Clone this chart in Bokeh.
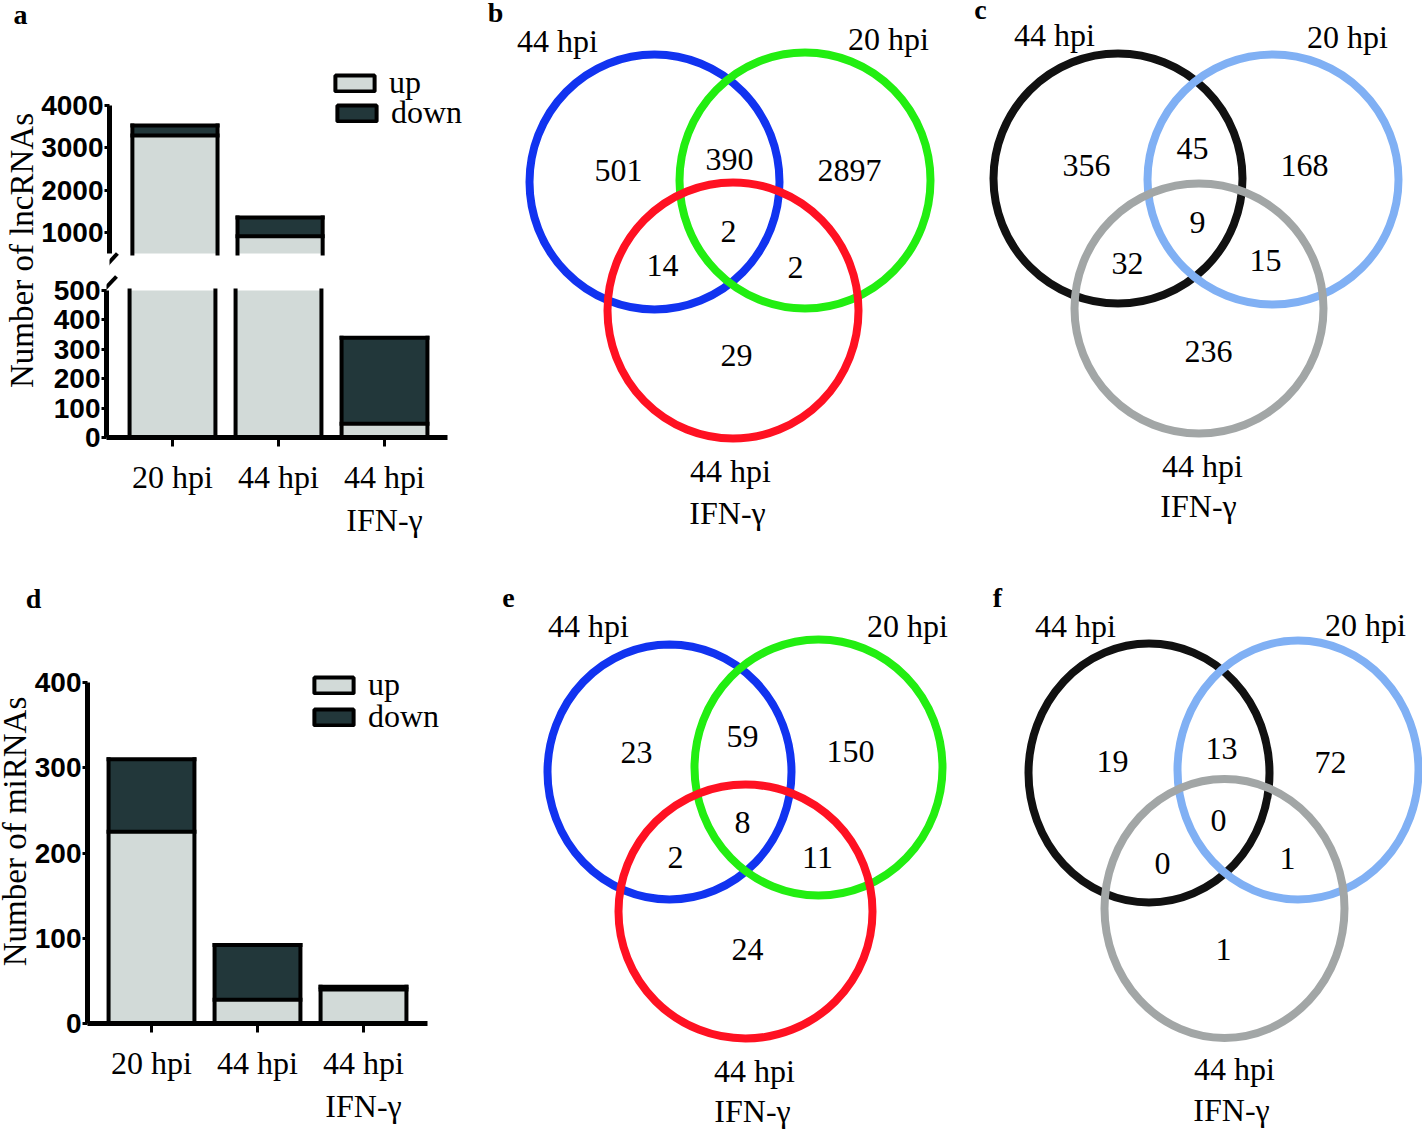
import numpy as np
from bokeh.plotting import figure
from bokeh.models import (Range1d, FixedTicker, Legend, LegendItem)
from bokeh.layouts import row, column
from bokeh.embed import file_html
from bokeh.resources import INLINE
from bokeh.core.properties import value

# ---------------- data ----------------
categories = ["20 hpi", "44 hpi", "44 hpi\nIFN-γ"]
lnc_up = [3291, 907, 47]
lnc_down = [237, 442, 292]
mir_up = [225, 28, 40]
mir_down = [85, 64, 3]
lnc_top_ticks = [1000, 2000, 3000, 4000]
lnc_bottom_ticks = [0, 100, 200, 300, 400, 500]
mir_ticks = [0, 100, 200, 300, 400]
legend_labels = ["up", "down"]

venn_sets = ["44 hpi", "20 hpi", "44 hpi\nIFN-γ"]
# regions: only 44hpi, 44∩20, only 20, 44∩IFN, all three, 20∩IFN, only IFN
venn_b = [501, 390, 2897, 14, 2, 2, 29]
venn_c = [356, 45, 168, 32, 9, 15, 236]
venn_e = [23, 59, 150, 2, 8, 11, 24]
venn_f = [19, 13, 72, 0, 0, 1, 1]

# ---------------- styles ----------------
SERIF = "Liberation Serif"
TICKFONT = "Liberation Sans"
UP_FILL = "#d2dad8"
DOWN_FILL = "#22373a"
BLUE, GREEN, RED = "#1133f0", "#22ee11", "#ff1122"
BLACK, LBLUE, GRAY = "#111111", "#80b0f4", "#a2a6a6"
BAR_W = 0.81
BAR_LW = 4
NAN = float("nan")


def base_fig(**kw):
    p = figure(output_backend="svg", toolbar_location=None, title=None, **kw)
    p.outline_line_color = None
    p.grid.visible = False
    p.background_fill_color = "white"
    p.border_fill_color = "white"
    try:
        p.frame_align = False
    except Exception:
        pass
    return p


def pix_fig(x0, y0, w, h):
    """figure whose data units are page pixels (text / decoration panels)"""
    return base_fig(width=w, height=h, x_range=Range1d(x0, x0 + w), y_range=Range1d(y0 + h, y0),
                    min_border=0, x_axis_location=None, y_axis_location=None)


def style_y(ax, ticks, bounds):
    ax.ticker = FixedTicker(ticks=ticks)
    ax.bounds = bounds
    ax.axis_line_width = 5
    ax.axis_line_color = "black"
    ax.major_tick_line_width = 3
    ax.major_tick_out = 5
    ax.major_tick_in = 0
    ax.minor_tick_out = 0
    ax.minor_tick_in = 0
    ax.major_label_text_font = TICKFONT
    ax.major_label_text_font_style = "bold"
    ax.major_label_text_font_size = "28px"
    ax.major_label_text_color = "black"
    ax.major_label_standoff = 1


def style_x(ax, bounds):
    ax.ticker = FixedTicker(ticks=list(range(len(categories))))
    ax.major_label_overrides = {i: c for i, c in enumerate(categories)}
    ax.bounds = bounds
    ax.axis_line_width = 5
    ax.axis_line_color = "black"
    ax.major_tick_line_width = 3
    ax.major_tick_out = 9
    ax.major_tick_in = 0
    ax.minor_tick_out = 0
    ax.minor_tick_in = 0
    ax.major_label_text_font = SERIF
    ax.major_label_text_font_size = "32px"
    ax.major_label_text_color = "black"
    ax.major_label_standoff = 12


def add_legend(p, renderer, label, loc):
    lg = Legend(items=[LegendItem(label=label, renderers=[renderer])], location=loc)
    lg.glyph_width = 49      # bokeh insets area glyphs by 10% on each side
    lg.glyph_height = 20
    lg.label_standoff = 10
    lg.padding = 0
    lg.margin = 0
    lg.spacing = 0
    lg.border_line_color = None
    lg.background_fill_alpha = 0
    lg.label_text_font = SERIF
    lg.label_text_font_size = "32px"
    lg.label_text_color = "black"
    p.add_layout(lg, "center")


def bars(p, up, down, cut_lo, cut_hi):
    """stacked bars shown only inside the axis segment [cut_lo, cut_hi]"""
    xs = list(range(len(categories)))
    h = BAR_W / 2
    for seg, fill in ((0, UP_FILL), (1, DOWN_FILL)):
        bx, bb, bt = [], [], []
        for x, u, d in zip(xs, up, down):
            lo, hi = (0, u) if seg == 0 else (u, u + d)
            lo, hi = max(lo, cut_lo), min(hi, cut_hi)
            if hi > lo:
                bx.append(x); bb.append(lo); bt.append(hi)
        p.vbar(x=bx, bottom=bb, top=bt, width=BAR_W, fill_color=fill, line_color=None)
    x0, y0, x1, y1 = [], [], [], []
    for x, u, d in zip(xs, up, down):
        tot = u + d
        if tot <= cut_lo:
            continue
        for sx in (x - h, x + h):
            x0.append(sx); x1.append(sx)
            y0.append(max(cut_lo, 0)); y1.append(min(tot, cut_hi))
        for yv in (u, tot):
            if cut_lo < yv <= cut_hi:
                x0.append(x - h); x1.append(x + h)
                y0.append(yv); y1.append(yv)
    p.segment(x0=x0, y0=y0, x1=x1, y1=y1, line_color="black", line_width=BAR_LW,
              line_cap="square")
    # renderers that only carry the legend styling (NaN data is never painted)
    r_up = p.vbar(x=[NAN], bottom=[NAN], top=[NAN], width=BAR_W, fill_color=UP_FILL,
                  line_color="black", line_width=BAR_LW)
    r_dn = p.vbar(x=[NAN], bottom=[NAN], top=[NAN], width=BAR_W, fill_color=DOWN_FILL,
                  line_color="black", line_width=BAR_LW)
    return r_up, r_dn


def ptext(p, x, y, t, size="32px", bold=False, angle=0.0):
    p.text(x=[x], y=[y], text=[t], angle=angle, text_font=value(SERIF),
           text_font_style="bold" if bold else "normal", text_font_size=size,
           text_align="center", text_baseline="middle", text_color="black")


# ---------------- panel a (broken axis) ----------------
ax_x = lambda X: (X - 172) / 106.0          # page px -> category position
atop_y = lambda Y: 500 + (253 - Y) * 3500 / 148.0
abot_y = lambda Y: (437 - Y) * 500 / 147.0

pa_lab = pix_fig(0, 0, 38, 548)
ptext(pa_lab, 20, 14, "a", size="28px", bold=True)
ptext(pa_lab, 21.5, 250, "Number of lncRNAs", size="33px", angle=np.pi / 2)

pa_top = base_fig(width=440, height=271, x_range=Range1d(ax_x(106), ax_x(470)),
                  y_range=Range1d(atop_y(271), atop_y(60)), min_border_left=68, min_border_right=8,
                  min_border_top=60, min_border_bottom=0, x_axis_location=None)
style_y(pa_top.yaxis[0], lnc_top_ticks, (500, 4000))
ru, rd = bars(pa_top, lnc_up, lnc_down, 500, 4000)
add_legend(pa_top, ru, legend_labels[0], (221, 170))
add_legend(pa_top, rd, legend_labels[1], (223, 140))
pa_top.segment(x0=[ax_x(100)], y0=[atop_y(268)], x1=[ax_x(114)], y1=[atop_y(253)],
               line_width=4, line_color="black")

pa_bot = base_fig(width=440, height=277, x_range=Range1d(ax_x(106), ax_x(470)),
                  y_range=Range1d(0, abot_y(271)), min_border_left=68, min_border_right=8,
                  min_border_top=0, min_border_bottom=111)
style_y(pa_bot.yaxis[0], lnc_bottom_ticks, (0, 500))
style_x(pa_bot.xaxis[0], (ax_x(106), ax_x(447)))
bars(pa_bot, lnc_up, lnc_down, 0, 500)
pa_bot.segment(x0=[ax_x(101)], y0=[abot_y(292)], x1=[ax_x(116)], y1=[abot_y(276)],
               line_width=4, line_color="black")

# ---------------- panel d ----------------
dx = lambda X: (X - 151) / 106.0
dy = lambda Y: (1023 - Y) * 400 / 341.0

pd_head = pix_fig(0, 548, 478, 64)
ptext(pd_head, 33, 598, "d", size="28px", bold=True)
pd_lab = pix_fig(0, 612, 30, 517)
ptext(pd_lab, 14, 831, "Number of miRNAs", size="33px", angle=np.pi / 2)

pd_ = base_fig(width=448, height=517, x_range=Range1d(dx(87), dx(460)), y_range=Range1d(0, dy(670)),
               min_border_left=57, min_border_right=18, min_border_top=58, min_border_bottom=106)
style_y(pd_.yaxis[0], mir_ticks, (0, 400))
style_x(pd_.xaxis[0], (dx(87), dx(427)))
ru, rd = bars(pd_, mir_up, mir_down, 0, 400)
add_legend(pd_, ru, legend_labels[0], (222, 320))
add_legend(pd_, rd, legend_labels[1], (222, 288))

# ---------------- venn panels ----------------
venn_layouts = [
    dict(counts=venn_b, letter="b", letter_pos=(495, 12),
         circles=[(654, 181.5, 250, 255), (804.5, 180, 251, 256), (732.5, 310, 251, 256)],
         colors=[BLUE, GREEN, RED],
         nums=[(618, 170), (729, 159), (849, 170), (662, 265), (728, 231), (795, 267), (736, 355)],
         titles=[(557, 40), (888, 38), (730, 470), (727, 512)]),
    dict(counts=venn_c, letter="c", letter_pos=(980, 9),
         circles=[(1117.5, 178, 249, 250), (1272.5, 179, 251, 250), (1198.5, 308, 249, 250)],
         colors=[BLACK, LBLUE, GRAY],
         nums=[(1086, 165), (1192, 148), (1304, 165), (1127, 263), (1197, 222), (1265, 260), (1208, 351)],
         titles=[(1054, 34), (1347, 36), (1202, 465), (1198, 505)]),
    dict(counts=venn_e, letter="e", letter_pos=(508, 597),
         circles=[(669, 771.5, 244, 255), (818, 767, 248, 256), (745, 911, 254, 254)],
         colors=[BLUE, GREEN, RED],
         nums=[(636, 752), (742, 736), (850, 751), (675, 857), (742, 822), (817, 857), (747, 949)],
         titles=[(588, 625), (907, 625), (754, 1070), (752, 1110)]),
    dict(counts=venn_f, letter="f", letter_pos=(997, 597),
         circles=[(1148.5, 772.5, 241, 259), (1297.5, 769.5, 241, 259), (1224, 908, 240, 259)],
         colors=[BLACK, LBLUE, GRAY],
         nums=[(1112, 761), (1221, 748), (1330, 762), (1162, 863), (1218, 820), (1287, 858), (1223, 949)],
         titles=[(1075, 625), (1365, 624), (1234, 1068), (1231, 1109)]),
]


def venn_fig(x0, y0, w, h, panels):
    p = pix_fig(x0, y0, w, h)
    for lay in panels:
        cx, cy, cw, ch = zip(*lay["circles"])
        p.ellipse(x=list(cx), y=list(cy), width=list(cw), height=list(ch), fill_color=None,
                  line_color=lay["colors"], line_width=8)
        nx, ny = zip(*lay["nums"])
        p.text(x=list(nx), y=list(ny), text=[str(v) for v in lay["counts"]],
               text_font=value(SERIF), text_font_size="32px", text_align="center",
               text_baseline="middle", text_color="black")
        lines = []
        for s in venn_sets:
            lines.extend(s.split("\n"))
        tx, ty = zip(*lay["titles"])
        p.text(x=list(tx), y=list(ty), text=lines, text_font=value(SERIF), text_font_size="32px",
               text_align="center", text_baseline="middle", text_color="black")
        ptext(p, lay["letter_pos"][0], lay["letter_pos"][1], lay["letter"], size="28px", bold=True)
    return p


p_bc = venn_fig(478, 0, 944, 548, venn_layouts[:2])
p_ef = venn_fig(478, 548, 944, 581, venn_layouts[2:])

layout = column(
    row(pa_lab, column(pa_top, pa_bot), p_bc),
    row(column(pd_head, row(pd_lab, pd_)), p_ef),
)

open("out.html", "w").write(file_html(layout, INLINE))
